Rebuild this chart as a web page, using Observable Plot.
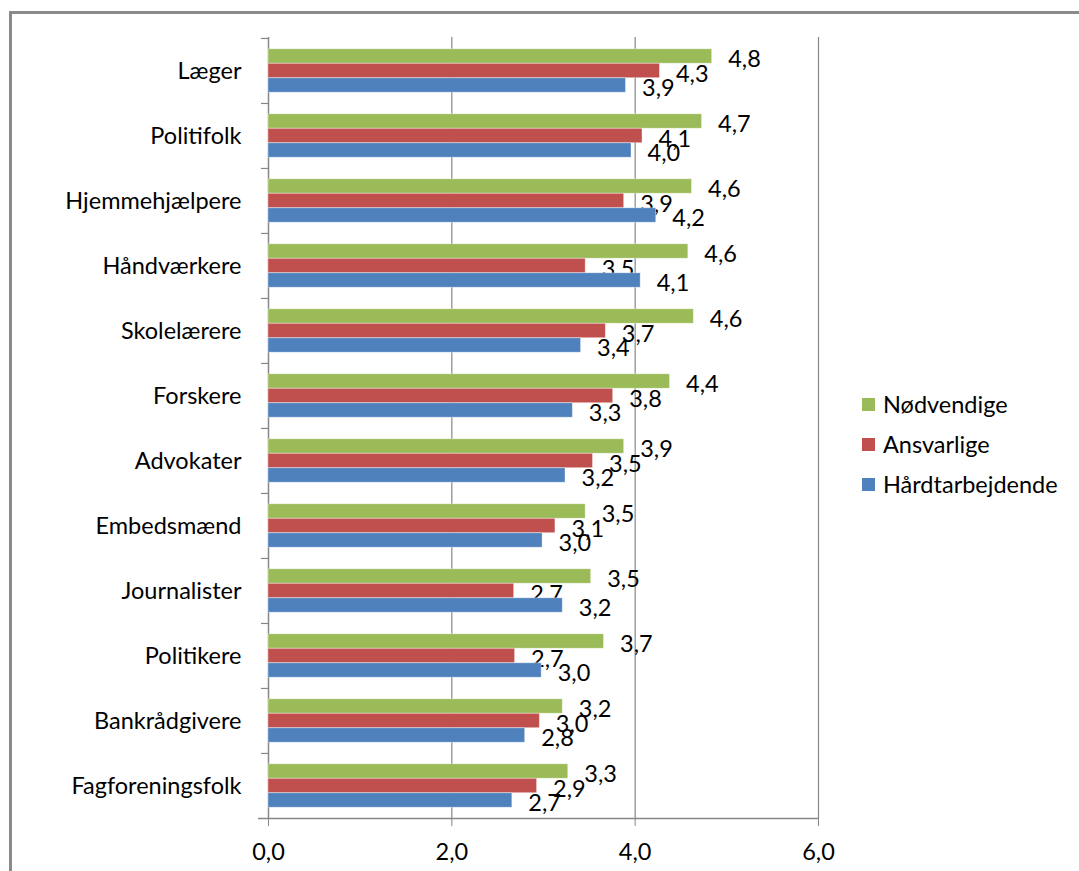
<!DOCTYPE html>
<html>
<head>
<meta charset="utf-8">
<script src="https://cdn.jsdelivr.net/npm/d3@7"></script>
<script src="https://cdn.jsdelivr.net/npm/@observablehq/plot@0.6"></script>
<style>
  html, body { margin: 0; padding: 0; background: #fff; }
  #wrap { position: relative; width: 1079px; height: 871px; overflow: hidden; font-family: Lato, "Open Sans", sans-serif; }
  #frame { position: absolute; left: 9px; top: 11px; width: 1100px; height: 900px; border-top: 3px solid #8a8a8a; border-left: 3px solid #8a8a8a; box-sizing: border-box; }
  #legend { position: absolute; left: 862px; top: 384px; font-size: 23.5px; color: #000; }
  #legend .row { display: flex; align-items: center; height: 40px; }
  #legend .sw { width: 13px; height: 13px; margin-right: 8px; }
  #chart { position: absolute; left: 0; top: 0; }
</style>
</head>
<body>
<div id="wrap">
  <div id="frame"></div>
  <div id="chart"></div>
  <div id="legend"></div>
</div>
<script>
const categories = ["Læger","Politifolk","Hjemmehjælpere","Håndværkere","Skolelærere","Forskere","Advokater","Embedsmænd","Journalister","Politikere","Bankrådgivere","Fagforeningsfolk"];
const series = ["Nødvendige","Ansvarlige","Hårdtarbejdende"];
const nodvendige      = [4.84,4.73,4.62,4.58,4.64,4.38,3.88,3.46,3.52,3.66,3.21,3.27];
const ansvarlige      = [4.27,4.08,3.88,3.46,3.68,3.76,3.54,3.13,2.68,2.69,2.96,2.93];
const hardtarbejdende = [3.90,3.96,4.23,4.06,3.41,3.32,3.24,2.99,3.21,2.98,2.80,2.66];
const xTicks = [0,2,4,6];
const colors = ["#9BBB59","#C0504D","#4F81BD"];

const values = [nodvendige, ansvarlige, hardtarbejdende];
const rows = series.map((s, si) => categories.map((c, ci) => ({series: s, si, category: c, value: values[si][ci]}))).flat();

const fmt = d => d3.format(".1f")(d).replace(".", ",");

const W = 1079, H = 871, mt = 37, mb = 53, ml = 268, mr = 261;
const step = (H - mt - mb) / categories.length;
const barH = 14.5;
const pad = (step - 3 * barH) / 2;
const gridColor = "#878787";
const fs = 23.5;

const seriesMarks = series.flatMap((s, i) => {
  const data = rows.filter(d => d.si === i);
  const centerOff = -step / 2 + pad + (i + 0.5) * barH;
  return [
    Plot.barX(data, {
      x: "value", y: "category", fill: colors[i],
      insetTop: pad + i * barH, insetBottom: step - pad - (i + 1) * barH,
      stroke: "#ffffff", strokeOpacity: 0.45, strokeWidth: 0.8
    }),
    Plot.text(data, {
      x: "value", y: "category", text: d => fmt(d.value),
      dx: 16, dy: centerOff + 3, textAnchor: "start", fill: "#000", fontSize: fs
    })
  ];
});

const chart = Plot.plot({
  width: W, height: H,
  marginTop: mt, marginBottom: mb, marginLeft: ml, marginRight: mr,
  style: {fontFamily: "Lato, 'Open Sans', sans-serif", fontSize: fs + "px", background: "transparent", color: "#000"},
  x: {domain: [0, 6], axis: null},
  y: {domain: categories, padding: 0, axis: null},
  marks: [
    Plot.ruleX(xTicks.slice(1), {stroke: gridColor, strokeWidth: 1.2}),
    Plot.ruleX([0], {stroke: gridColor, strokeWidth: 1.5}),
    Plot.ruleY(categories, {y: d => d, dy: -step / 2, x1: 0, x2: 0, insetLeft: -7, stroke: gridColor, strokeWidth: 1.2}),
    Plot.ruleY([categories[categories.length - 1]], {y: d => d, dy: step / 2, x1: 0, x2: 6, insetLeft: -10, stroke: gridColor, strokeWidth: 1.5}),
    Plot.axisX({ticks: xTicks, tickSize: 8, tickPadding: 17, tickFormat: fmt, stroke: gridColor, fill: "#000", fontSize: fs, label: null}),
    Plot.axisY({tickSize: 0, tickPadding: 27, fill: "#000", fontSize: fs, label: null}),
    ...seriesMarks
  ]
});
document.getElementById("chart").appendChild(chart);

const legend = document.getElementById("legend");
series.forEach((s, i) => {
  const row = document.createElement("div");
  row.className = "row";
  const sw = document.createElement("div");
  sw.className = "sw";
  sw.style.background = colors[i];
  const t = document.createElement("span");
  t.textContent = s;
  row.appendChild(sw); row.appendChild(t);
  legend.appendChild(row);
});
</script>
</body>
</html>
